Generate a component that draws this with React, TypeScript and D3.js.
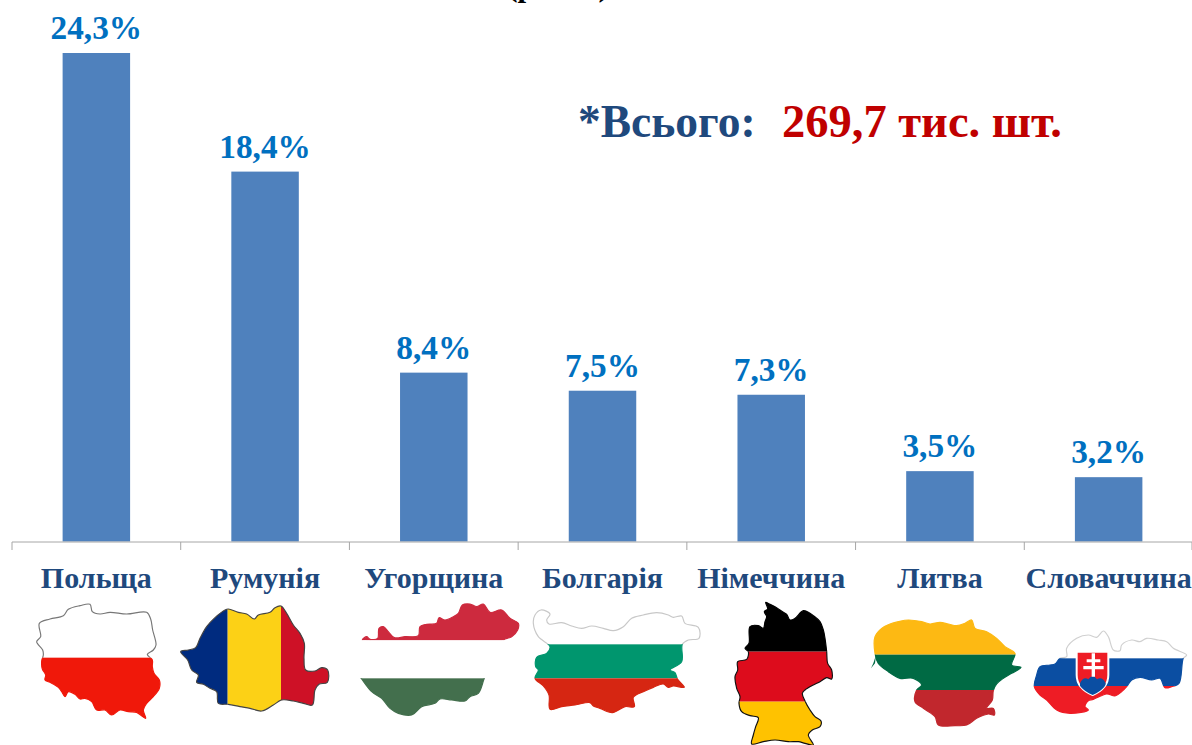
import React from "react";
import * as d3 from "d3";

const categories = ["Польща", "Румунія", "Угорщина", "Болгарія", "Німеччина", "Литва", "Словаччина"];
const shares = [24.3, 18.4, 8.4, 7.5, 7.3, 3.5, 3.2];
const shareLabels = ["24,3%", "18,4%", "8,4%", "7,5%", "7,3%", "3,5%", "3,2%"];
const totalLabel = "*Всього:";
const totalValue = "269,7 тис. шт.";
const clippedTitle = "(разом)";

type Pt = [number, number];
// Flag-map decorations: outlines traced in 3x crop units
const polandOutline: Pt[] = [[28,85],[60,72],[100,62],[115,43],[150,32],[180,28],[187,50],[210,57],[240,52],[290,57],[350,52],[362,72],[368,105],[378,150],[370,165],[352,178],[367,195],[367,215],[372,235],[388,255],[388,280],[370,305],[350,325],[340,345],[347,370],[320,352],[295,350],[270,345],[245,360],[225,345],[200,345],[185,320],[165,310],[150,312],[135,298],[115,290],[105,305],[95,290],[85,277],[60,262],[45,255],[47,240],[37,222],[35,198],[40,180],[38,165],[20,140],[32,125]];
const romaniaOutline: Pt[] = [[17,170],[40,165],[62,158],[75,130],[95,95],[120,68],[150,45],[160,42],[190,52],[215,57],[238,72],[250,60],[285,52],[300,38],[318,33],[335,55],[355,90],[375,115],[388,145],[387,190],[392,225],[420,228],[440,218],[458,225],[457,262],[432,268],[420,285],[412,330],[385,325],[355,318],[320,315],[295,330],[260,348],[225,340],[195,335],[160,328],[130,325],[125,290],[105,280],[85,268],[65,262],[70,240],[50,225],[38,195]];
const hungaryOutline: Pt[] = [[22,135],[35,125],[45,133],[68,130],[72,100],[85,95],[100,110],[118,128],[150,125],[190,122],[195,95],[215,88],[245,85],[252,68],[270,75],[295,65],[310,55],[322,30],[345,27],[365,35],[385,27],[405,52],[440,45],[465,70],[490,85],[488,105],[470,125],[445,135],[430,170],[400,225],[388,250],[370,295],[345,305],[330,318],[290,315],[255,312],[240,325],[200,335],[170,360],[130,355],[105,340],[80,310],[50,290],[20,252],[0,225],[25,170],[45,140]];
const bulgariaOutline: Pt[] = [[25,70],[30,45],[48,30],[75,42],[65,60],[72,72],[110,68],[140,78],[170,85],[200,78],[235,85],[265,92],[295,80],[320,55],[355,45],[395,38],[430,45],[445,52],[470,48],[480,70],[520,82],[522,115],[490,120],[472,133],[470,185],[435,210],[450,218],[458,238],[478,262],[445,258],[430,262],[415,252],[385,262],[355,275],[325,292],[328,320],[300,320],[262,338],[225,325],[205,318],[195,308],[150,315],[110,320],[75,328],[72,285],[55,258],[30,235],[40,210],[32,200],[35,172],[65,160],[75,140],[40,110]];
const germanyOutline: Pt[] = [[122,22],[135,28],[150,35],[165,45],[175,52],[185,58],[195,75],[210,70],[235,47],[255,55],[265,62],[285,80],[295,105],[300,130],[305,170],[308,205],[320,225],[320,252],[305,248],[285,260],[265,270],[240,285],[232,295],[240,318],[255,345],[270,365],[288,378],[285,395],[262,405],[250,420],[265,450],[240,445],[220,440],[190,440],[150,435],[115,440],[80,447],[85,420],[92,395],[100,368],[75,362],[50,350],[42,325],[45,305],[35,280],[30,245],[38,225],[38,200],[65,193],[70,170],[60,160],[72,145],[75,95],[100,92],[115,100],[120,80],[125,65],[118,50],[128,42]];
const lithuaniaOutline: Pt[] = [[30,80],[50,55],[75,42],[100,35],[130,30],[170,35],[195,42],[225,37],[250,42],[275,47],[300,40],[320,30],[330,55],[365,65],[395,85],[420,110],[450,130],[440,165],[468,172],[440,190],[415,205],[395,222],[385,242],[382,270],[365,295],[385,295],[388,315],[370,312],[335,325],[305,345],[270,347],[220,345],[210,320],[175,295],[150,275],[155,240],[170,225],[145,205],[105,205],[70,185],[40,160],[30,130]];
const slovakiaOutline: Pt[] = [[28,200],[35,165],[45,140],[75,135],[90,132],[105,115],[125,110],[125,85],[155,55],[190,45],[215,52],[235,33],[250,50],[265,90],[285,92],[290,75],[320,60],[345,65],[365,55],[400,60],[425,65],[445,85],[485,105],[475,115],[462,190],[440,200],[420,203],[405,175],[380,180],[345,172],[320,180],[305,200],[290,215],[270,228],[245,222],[205,238],[190,242],[180,260],[190,270],[135,280],[95,270],[65,240],[45,225]];
const lithuaniaSpit: Pt[] = [[33,135],[30,160],[18,175],[25,160]];

type Stripe = { end: number; fill: string; edge: string };
type Flag = { id: string; origin: Pt; outline: Pt[]; vertical?: boolean; stripes: Stripe[] };
const flags: Flag[] = [
  { id: "pl", origin: [30, 595], outline: polandOutline, stripes: [
    { end: 188, fill: "#ffffff", edge: "#777777" }, { end: 500, fill: "#f0180a", edge: "#f0180a" }] },
  { id: "ro", origin: [175, 595], outline: romaniaOutline, vertical: true, stripes: [
    { end: 158, fill: "#002b7f", edge: "#444444" }, { end: 318, fill: "#fcd116", edge: "#444444" }, { end: 600, fill: "#ce1126", edge: "#444444" }] },
  { id: "hu", origin: [355, 595], outline: hungaryOutline, stripes: [
    { end: 136, fill: "#cd2a3e", edge: "#cd2a3e" }, { end: 250, fill: "#ffffff", edge: "#ffffff" }, { end: 500, fill: "#436f4d", edge: "#436f4d" }] },
  { id: "bg", origin: [525, 600], outline: bulgariaOutline, stripes: [
    { end: 133, fill: "#ffffff", edge: "#c8c8c8" }, { end: 235, fill: "#00966e", edge: "#00966e" }, { end: 500, fill: "#d62612", edge: "#d62612" }] },
  { id: "de", origin: [725, 595], outline: germanyOutline, stripes: [
    { end: 170, fill: "#000000", edge: "#000000" }, { end: 320, fill: "#dd0c1c", edge: "#111111" }, { end: 500, fill: "#ffc200", edge: "#111111" }] },
  { id: "lt", origin: [865, 610], outline: lithuaniaOutline, stripes: [
    { end: 134, fill: "#fdb913", edge: "#fdb913" }, { end: 240, fill: "#006a44", edge: "#006a44" }, { end: 500, fill: "#c1272d", edge: "#c1272d" }] },
  { id: "sk", origin: [1025, 620], outline: slovakiaOutline, stripes: [
    { end: 115, fill: "#ffffff", edge: "#d0d0d0" }, { end: 198, fill: "#0b4ea2", edge: "#0b4ea2" }, { end: 500, fill: "#ee1c25", edge: "#ee1c25" }] },
];

const W = 1192, H = 745;
const serif = "'Liberation Serif', 'Times New Roman', serif";
const x = d3.scaleBand<string>().domain(categories).range([12, 1193]).paddingInner(0.6).paddingOuter(0.3);
const y = d3.scaleLinear().domain([0, 24.3]).range([541.5, 53]);
const outlinePath = d3.line<Pt>().curve(d3.curveCatmullRomClosed.alpha(0.5));
const tickXs = [...categories.map((c) => (x(c) as number) - x.step() * 0.3), 1192];

function FlagMap({ flag }: { flag: Flag }) {
  let start = -50;
  const d = outlinePath(flag.outline) as string;
  return (
    <g transform={`translate(${flag.origin[0]},${flag.origin[1]}) scale(${1 / 3})`}>
      <clipPath id={`shape-${flag.id}`}><path d={d} /></clipPath>
      {flag.stripes.map((s, i) => {
        const from = start;
        start = s.end;
        const rect = flag.vertical
          ? { x: from, y: -50, width: s.end - from, height: 600 }
          : { x: -50, y: from, width: 700, height: s.end - from };
        return (
          <g key={i}>
            <clipPath id={`band-${flag.id}-${i}`}><rect {...rect} /></clipPath>
            <rect {...rect} fill={s.fill} clipPath={`url(#shape-${flag.id})`} />
            <path d={d} fill="none" stroke={s.edge} strokeWidth={3.5} strokeLinejoin="round" clipPath={`url(#band-${flag.id}-${i})`} />
          </g>
        );
      })}
      {flag.id === "lt" && <path d={d3.line<Pt>().curve(d3.curveLinearClosed)(lithuaniaSpit) as string} fill="#006a44" />}
      {flag.id === "sk" && <SlovakShield />}
    </g>
  );
}

function SlovakShield() {
  return (
    <g>
      <clipPath id="sk-shield"><path d="M155,95H250V165Q250,205 203,225Q155,205 155,165Z" /></clipPath>
      <path d="M155,95H250V165Q250,205 203,225Q155,205 155,165Z" fill="#ee1c25" stroke="#ffffff" strokeWidth={6} />
      <path d="M165,190Q175,168 190,178Q203,160 216,178Q232,168 242,190V230H165Z" fill="#0b4ea2" clipPath="url(#sk-shield)" />
      <path d="M200,100H210V118H226V127H210V138H236V148H210V170H200V148H175V138H200V127H185V118H200Z" fill="#ffffff" />
    </g>
  );
}

export default function App() {
  return (
    <svg width={W} height={H} viewBox={`0 0 ${W} ${H}`} style={{ position: "absolute", left: 0, top: 0, display: "block", background: "#ffffff" }} fontFamily={serif}>
      <text x={558} y={-4} textAnchor="middle" fontSize={31} fontWeight={700} fill="#000000">{clippedTitle}</text>
      {categories.map((c, i) => (
        <rect key={c} x={x(c)} y={y(shares[i])} width={x.bandwidth()} height={y(0) - y(shares[i])} fill="#4f81bd" />
      ))}
      <line x1={12} x2={1192} y1={542} y2={542} stroke="#a6a6a6" strokeWidth={1} />
      {tickXs.map((t, i) => (
        <line key={i} x1={t} x2={t} y1={542} y2={550} stroke="#a6a6a6" strokeWidth={1} />
      ))}
      {categories.map((c, i) => (
        <text key={c} x={(x(c) as number) + x.bandwidth() / 2} y={y(shares[i]) - 14} textAnchor="middle" fontSize={33.3} fontWeight={700} fill="#0070c0">{shareLabels[i]}</text>
      ))}
      {categories.map((c) => (
        <text key={c} x={(x(c) as number) + x.bandwidth() / 2} y={588} textAnchor="middle" fontSize={30} fontWeight={700} fill="#1f497d">{c}</text>
      ))}
      <text x={578} y={137} fontSize={45.5} fontWeight={700} fill="#1f497d">{totalLabel}</text>
      <text x={782} y={137} fontSize={46.5} fontWeight={700} fill="#c00000">{totalValue}</text>
      {flags.map((f) => <FlagMap key={f.id} flag={f} />)}
    </svg>
  );
}
